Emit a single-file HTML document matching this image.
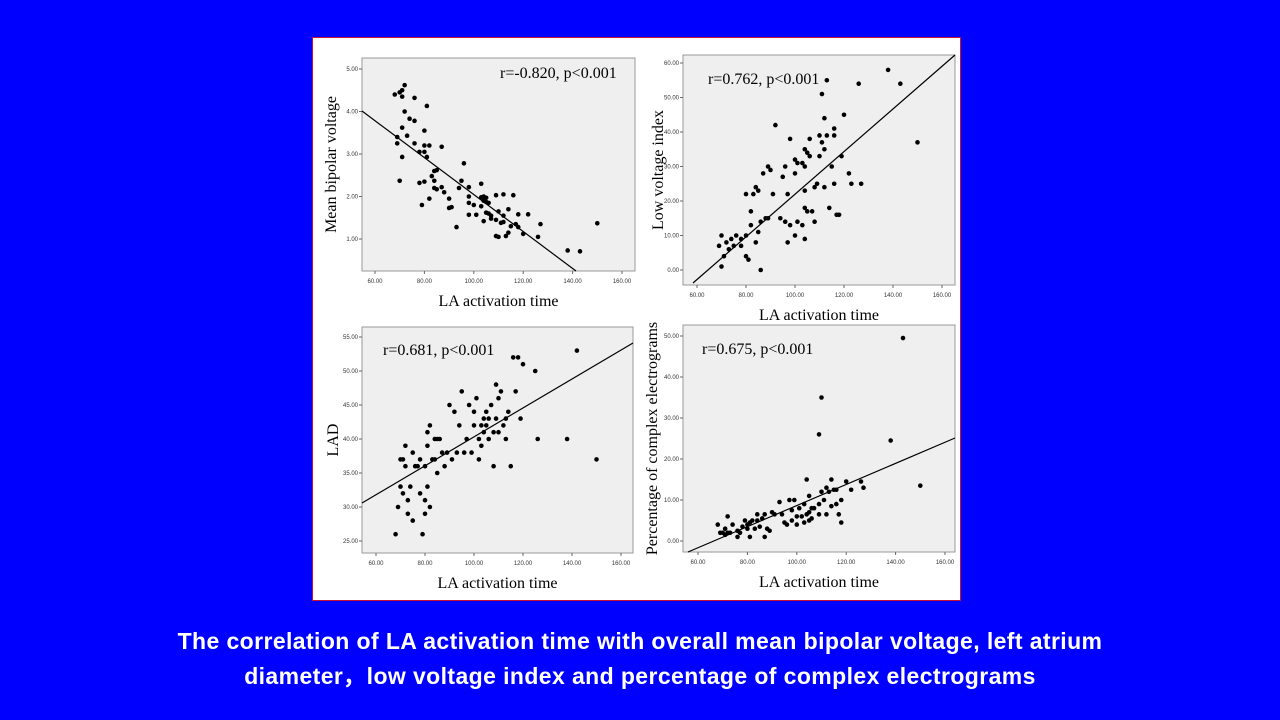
<!DOCTYPE html>
<html><head><meta charset="utf-8"><style>
body{margin:0;width:1280px;height:720px;background:#0000fe;overflow:hidden;position:relative}
#box{position:absolute;left:312px;top:37px;width:647px;height:562px;background:#fff;border:1px solid #c8102e}
.cap{position:absolute;left:0;width:1280px;text-align:center;color:#fff;font:bold 23px "Liberation Sans",sans-serif;letter-spacing:0.4px}
</style></head><body>
<div id="box"></div>
<svg id="s" width="1280" height="720" style="position:absolute;left:0;top:0" font-family="Liberation Serif, serif"></svg>
<div class="cap" style="top:628px">The correlation of LA activation time with overall mean bipolar voltage, left atrium</div>
<div class="cap" style="top:657px">diameter，low voltage index and percentage of complex electrograms</div>
<script>
var s=document.getElementById('s'),h='';
function panel(o){
 var X=function(v){return o.x60+(v-60)*(o.x160-o.x60)/100},Y=function(v){return o.y0+(v-o.v0)*(o.y1-o.y0)/(o.v1-o.v0)};
 h+='<rect x="'+o.l+'" y="'+o.t+'" width="'+(o.r-o.l)+'" height="'+(o.b-o.t)+'" fill="#efefef" stroke="#999" stroke-width="1"/>';
 for(var i=0;i<6;i++){var v=60+i*20,x=X(v);h+='<line x1="'+x+'" y1="'+o.b+'" x2="'+x+'" y2="'+(o.b+3)+'" stroke="#666"/><text x="'+x+'" y="'+(o.b+12)+'" font-size="6" text-anchor="middle" font-family="Liberation Sans" fill="#333">'+v+'.00</text>';}
 o.ticks.forEach(function(v){var y=Y(v);h+='<line x1="'+(o.l-3)+'" y1="'+y+'" x2="'+o.l+'" y2="'+y+'" stroke="#666"/><text x="'+(o.l-4)+'" y="'+(y+2)+'" font-size="6" text-anchor="end" font-family="Liberation Sans" fill="#333">'+v.toFixed(2)+'</text>';});
 o.pts.forEach(function(p){h+='<circle cx="'+X(p[0])+'" cy="'+Y(p[1])+'" r="2.3" fill="#000"/>';});
 h+='<line x1="'+o.line[0]+'" y1="'+o.line[1]+'" x2="'+o.line[2]+'" y2="'+o.line[3]+'" stroke="#000" stroke-width="1.2"/>';
 h+='<text x="'+o.rx+'" y="'+o.ry+'" font-size="16">'+o.r_+'</text>';
 h+='<text x="'+((o.l+o.r)/2)+'" y="'+(o.b+35)+'" font-size="16" text-anchor="middle">LA activation time</text>';
 h+='<text transform="translate('+o.yx+','+((o.t+o.b)/2)+') rotate(-90)" font-size="16" text-anchor="middle">'+o.yl+'</text>';
}
panel({l:362,r:635,t:58,b:271,x60:375,x160:622,y0:239,v0:1,y1:69,v1:5,ticks:[1,2,3,4,5],line:[362,111,576,271],rx:500,ry:78,r_:'r=-0.820, p&lt;0.001',yx:336,yl:'Mean bipolar voltage',
pts:[[68,4.4],[70,4.45],[71,4.5],[71,4.35],[72,4.62],[76,4.32],[81,4.13],[72,4],[74,3.83],[76,3.78],[71,3.62],[80,3.55],[73,3.43],[69,3.4],[69,3.25],[76,3.25],[80,3.2],[82,3.2],[87,3.17],[78,3.05],[80,3.05],[71,2.93],[81,2.93],[96,2.78],[84,2.6],[85,2.62],[83,2.48],[70,2.37],[78,2.32],[80,2.35],[84,2.37],[95,2.37],[103,2.3],[84,2.2],[85,2.17],[87,2.22],[94,2.2],[98,2.22],[88,2.1],[82,1.95],[90,1.95],[98,2],[103,1.98],[104,2],[105,1.97],[109,2.03],[112,2.05],[116,2.03],[79,1.8],[91,1.75],[90,1.73],[98,1.85],[100,1.8],[103,1.77],[105,1.87],[104,1.9],[106,1.85],[98,1.57],[101,1.57],[105,1.62],[106,1.6],[107,1.55],[110,1.65],[112,1.55],[114,1.7],[118,1.58],[122,1.58],[104,1.42],[107,1.48],[109,1.45],[111,1.38],[112,1.4],[115,1.3],[117,1.35],[118,1.28],[127,1.35],[150,1.37],[93,1.28],[109,1.07],[110,1.05],[113,1.07],[114,1.15],[120,1.12],[126,1.05],[138,0.73],[143,0.71]]});
panel({l:683,r:955,t:55,b:285,x60:697,x160:942,y0:270,v0:0,y1:63,v1:60,ticks:[0,10,20,30,40,50,60],line:[693,283,955,55],rx:708,ry:84,r_:'r=0.762, p&lt;0.001',yx:663,yl:'Low voltage index',
pts:[[70,1],[69,7],[70,10],[72,8],[73,6],[71,4],[75,7],[74,9],[76,10],[78,9],[80,10],[80,4],[81,3],[78,7],[82,13],[84,8],[86,0],[85,11],[88,15],[89,15],[86,14],[80,22],[82,17],[83,22],[84,24],[85,23],[87,28],[89,30],[90,29],[92,42],[95,27],[97,22],[96,14],[98,13],[97,8],[100,32],[100,28],[101,31],[103,31],[104,30],[104,35],[105,34],[106,33],[106,38],[104,23],[104,18],[105,17],[107,17],[109,25],[110,39],[110,33],[111,37],[111,51],[112,35],[113,39],[112,44],[113,55],[116,39],[116,41],[115,30],[116,25],[117,16],[118,16],[119,33],[122,28],[123,25],[120,45],[126,54],[127,25],[104,9],[100,10],[101,14],[103,13],[108,14],[108,24],[112,24],[114,18],[138,58],[143,54],[150,37],[94,15],[98,38],[91,22],[96,30]]});
panel({l:362,r:633,t:327,b:553,x60:376,x160:621,y0:541,v0:25,y1:337,v1:55,ticks:[25,30,35,40,45,50,55],line:[362,503,633,343],rx:383,ry:355,r_:'r=0.681, p&lt;0.001',yx:338,yl:'LAD',
pts:[[68,26],[69,30],[70,33],[70,37],[71,37],[72,36],[71,32],[72,39],[73,31],[73,29],[74,33],[75,28],[75,38],[76,36],[77,36],[78,32],[78,37],[79,26],[80,31],[80,29],[80,36],[81,39],[81,33],[81,41],[82,30],[82,42],[83,37],[84,40],[84,37],[85,35],[85,40],[86,40],[87,38],[88,36],[89,38],[90,45],[91,37],[92,44],[93,38],[94,42],[95,47],[96,38],[97,40],[98,45],[99,38],[100,42],[101,46],[102,40],[103,39],[103,42],[104,43],[104,41],[105,42],[105,44],[106,40],[106,43],[107,45],[108,41],[108,36],[109,48],[109,43],[110,46],[110,41],[111,47],[112,42],[113,43],[113,40],[114,44],[115,36],[116,52],[117,47],[118,52],[119,43],[120,51],[125,50],[126,40],[138,40],[142,53],[150,37],[100,44],[102,37]]});
panel({l:683,r:955,t:325,b:552,x60:698,x160:945,y0:541,v0:0,y1:336,v1:50,ticks:[0,10,20,30,40,50],line:[688,552,955,438],rx:702,ry:354,r_:'r=0.675, p&lt;0.001',yx:657,yl:'Percentage of complex electrograms',
pts:[[68,4],[69,2],[70,2],[71,3],[71,1.5],[72,6],[72,2],[73,2],[74,4],[76,2.5],[76,1],[77,2],[78,3.5],[79,5],[80,4],[80,3],[81,1],[81,4.5],[82,5],[83,3],[84,5],[84,6.5],[85,3.5],[86,5.5],[87,1],[87,6.5],[88,3],[89,2.5],[90,7],[91,6.5],[93,9.5],[94,6.5],[95,4.5],[96,4],[97,10],[98,5],[98,7.5],[99,10],[100,4],[101,8],[102,6],[103,9],[103,4.5],[104,15],[104,6.5],[105,11],[105,5],[106,8],[106,5.5],[107,8],[109,26],[109,9],[109,6.5],[110,35],[110,12],[111,10],[112,13],[112,6.5],[113,12],[114,15],[114,8.5],[115,12.5],[116,12.5],[116,9],[117,6.5],[118,10],[118,4.5],[120,14.5],[122,12.5],[126,14.5],[127,13],[138,24.5],[143,49.5],[150,13.5],[100,6],[105,7]]});
s.innerHTML=h;
</script>
</body></html>
